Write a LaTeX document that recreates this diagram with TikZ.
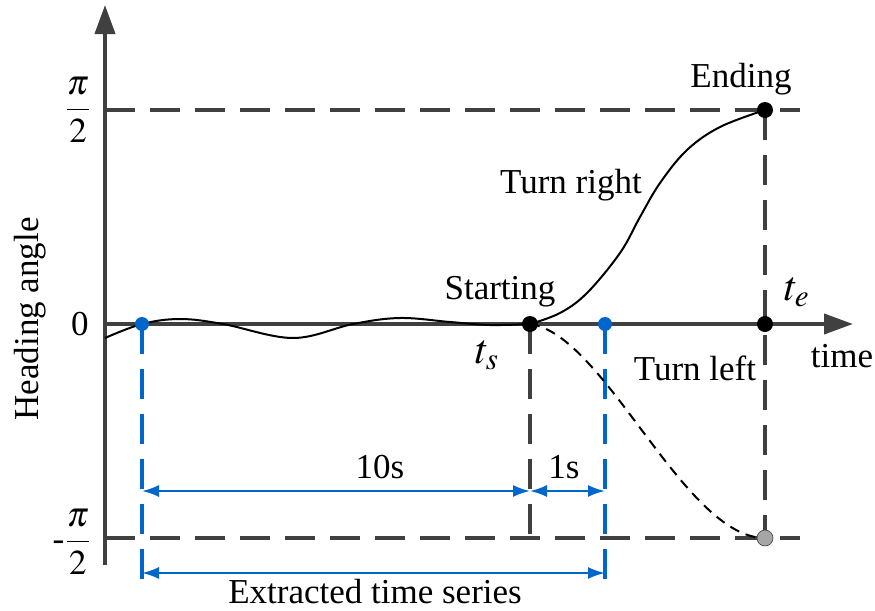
\documentclass[tikz,border=0pt]{standalone}
\usepackage{amsmath}
\usepackage{mathptmx}
\usepackage{fontspec}
\setmainfont{Liberation Serif}
\usetikzlibrary{arrows.meta}
\definecolor{axisgray}{HTML}{404040}
\definecolor{markblue}{HTML}{0066CC}
\definecolor{dotgray}{HTML}{A6A6A6}
\begin{document}
\begin{tikzpicture}[x=0.5pt, y=-0.5pt, font=\fontsize{17.5}{21}\selectfont,
  axis/.style={line width=2pt, draw=axisgray, -{Triangle[length=14.5pt,width=10pt]}},
  guide/.style={line width=2pt, draw=axisgray, dash pattern=on 15pt off 7.5pt},
  bguide/.style={line width=1.7pt, draw=markblue, dash pattern=on 15pt off 7.5pt},
  span/.style={line width=1pt, draw=markblue, {Latex[length=8.5pt,width=6pt]}-{Latex[length=8.5pt,width=6pt]}},
  curve/.style={line width=1pt, black},
  tlabel/.style={font=\fontsize{21}{25}\selectfont},
  dot/.style={circle, fill=black, inner sep=0pt, minimum size=8pt},
  bdot/.style={circle, fill=markblue, inner sep=0pt, minimum size=7pt},
  gdot/.style={circle, fill=dotgray, draw=axisgray, line width=0.3pt, inner sep=0pt, minimum size=8pt}]
\useasboundingbox (0,0) rectangle (875,611);
\coordinate (O) at (105,324);
\coordinate (ytop) at (105,5);
\coordinate (ybot) at (105,565);
\coordinate (xend) at (853,324);
\coordinate (hp) at (105,110);
\coordinate (hpend) at (800,110);
\coordinate (hm) at (105,538);
\coordinate (hmend) at (800,538);
\coordinate (start) at (530,324);
\coordinate (ending) at (765,110);
\coordinate (te) at (765,324);
\coordinate (lowend) at (765,538);
\coordinate (tslow) at (530,538);
\coordinate (b1) at (142,324);
\coordinate (b2) at (605,324);
\coordinate (b1low) at (142,590);
\coordinate (b2low) at (605,590);
\coordinate (s1) at (142,491);
\coordinate (s2) at (530,491);
\coordinate (s3) at (605,491);
\coordinate (e1) at (142,573);
\coordinate (e2) at (605,573);

\draw[guide] (hp)--(hpend);
\draw[guide] (hm)--(hmend);
\draw[guide] (ending)--(lowend);
\draw[guide] (start)--(tslow);
\draw[bguide] (b1)--(b1low);
\draw[bguide] (b2)--(b2low);
\draw[axis] (ybot)--(ytop);
\draw[axis] (O)--(xend);

\draw[span] (s1)--(s2);
\draw[span] (s2)--(s3);
\draw[span] (e1)--(e2);

\draw[curve] plot[smooth, tension=0.6] coordinates {(105,338) (142,324) (180,319) (223,324) (293,338) (353,324) (400,318) (450,322) (490,325) (start)};
\draw[curve] plot[smooth, tension=0.6] coordinates {(start) (560,313) (587,293) (620,253) (640,217) (660,183) (687,150) (720,127) (ending)};
\draw[curve, dash pattern=on 5pt off 3.5pt] (start) .. controls (605,334) and (684,538) .. (lowend);

\node[bdot] (b1dot) at (b1) {};
\node[bdot] (b2dot) at (b2) {};
\node[dot] (startdot) at (start) {};
\node[dot] (enddot) at (ending) {};
\node[dot] (tedot) at (te) {};
\node[gdot] (lowdot) at (lowend) {};

\node (lzero) at (80,324) {0};
\node (lhp) at (78,110) {$\dfrac{\pi}{2}$};
\node (lhm) at (72,542) {-$\dfrac{\pi}{2}$};
\node[rotate=90] (lhead) at (30,319) {Heading angle};
\node (ltime) at (842,356) {time};
\node (lstart) at (500,292) {Starting};
\node[tlabel] (lts) at (487,355) {$t_s$};
\node[tlabel] (lte) at (797,292) {$t_e$};
\node (lend) at (741,79) {Ending};
\node (lright) at (571,185) {Turn right};
\node (lleft) at (695,368) {Turn left};
\node (l10) at (380,467) {10s};
\node (l1) at (564,467) {1s};
\node (lext) at (375,592) {Extracted time series};
\end{tikzpicture}
\end{document}
